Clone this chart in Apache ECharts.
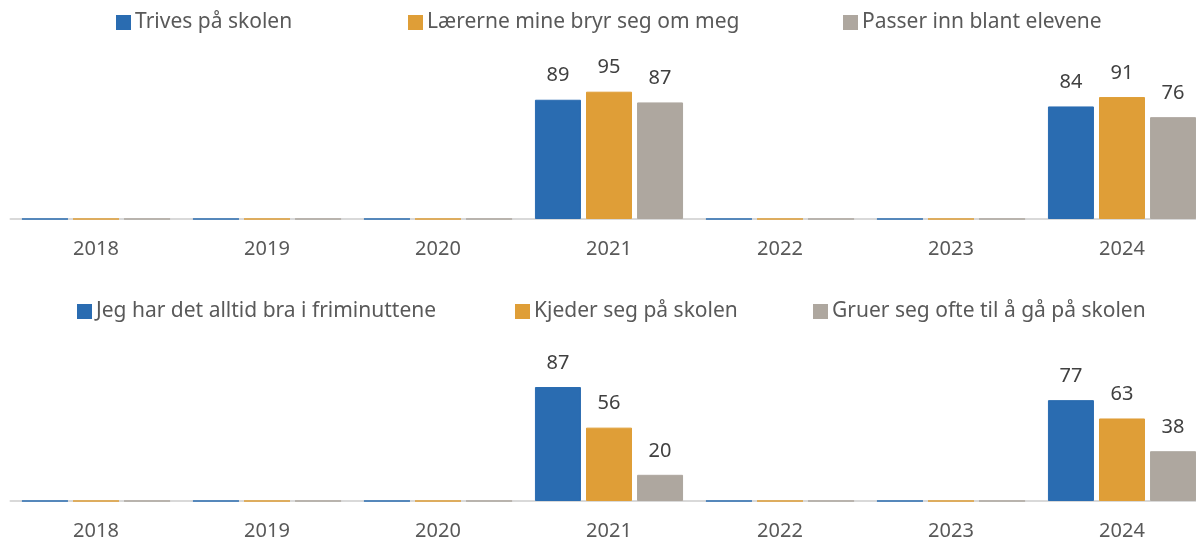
<!DOCTYPE html>
<html>
<head>
<meta charset="utf-8">
<script src="https://cdn.jsdelivr.net/npm/echarts@6/dist/echarts.min.js"></script>
<style>
  html, body { margin: 0; padding: 0; background: #ffffff; overflow: hidden; }
  #chart { width: 1208px; height: 541px; }
</style>
</head>
<body>
<div id="chart"></div>
<script>
// Survey years shown on both panels
const years = ['2018', '2019', '2020', '2021', '2022', '2023', '2024'];

// Upper panel: well-being at school (percent)
const topNames = ['Trives på skolen', 'Lærerne mine bryr seg om meg', 'Passer inn blant elevene'];
const trives = [0, 0, 0, 89, 0, 0, 84];
const laerere = [0, 0, 0, 95, 0, 0, 91];
const passerInn = [0, 0, 0, 87, 0, 0, 76];

// Lower panel: breaks, boredom and dread (percent)
const bottomNames = ['Jeg har det alltid bra i friminuttene', 'Kjeder seg på skolen', 'Gruer seg ofte til å gå på skolen'];
const friminutt = [0, 0, 0, 87, 0, 0, 77];
const kjeder = [0, 0, 0, 56, 0, 0, 63];
const gruer = [0, 0, 0, 20, 0, 0, 38];

const colors = ['#2a6cb1', '#df9e37', '#aea79f'];
const FONT = '"Noto Sans", Roboto, sans-serif';
const textColor = '#595959';

function barSeries(name, values, color, axisIndex) {
  return {
    type: 'bar',
    name: name,
    xAxisIndex: axisIndex,
    yAxisIndex: axisIndex,
    barWidth: 46,
    barGap: '11%',
    data: values,
    itemStyle: { color: color, borderColor: color, borderWidth: 1 },
    label: {
      show: true,
      position: 'top',
      distance: 14,
      fontFamily: FONT,
      fontSize: 20,
      color: '#404040',
      formatter: p => (p.value ? String(p.value) : '')
    },
    emphasis: { disabled: true }
  };
}

function legendAt(name, left, top) {
  return {
    data: [name],
    left: left,
    top: top,
    padding: 0,
    itemWidth: 13,
    itemHeight: 13,
    icon: 'rect',
    selectedMode: false,
    textStyle: { fontFamily: FONT, fontSize: 21, color: textColor }
  };
}

const catAxis = gridIndex => ({
  type: 'category',
  gridIndex: gridIndex,
  data: years,
  axisLine: { show: true, lineStyle: { color: '#d9d9d9', width: 2 } },
  axisTick: { show: false },
  axisLabel: { fontFamily: FONT, fontSize: 20, color: textColor, margin: 20 }
});

const valAxis = gridIndex => ({
  type: 'value',
  gridIndex: gridIndex,
  min: 0,
  max: 100,
  show: false
});

const chart = echarts.init(document.getElementById('chart'), null, { renderer: 'canvas' });
chart.setOption({
  animation: false,
  color: colors,
  legend: [
    legendAt(topNames[0], 116, 12),
    legendAt(topNames[1], 408, 12),
    legendAt(topNames[2], 843, 12),
    legendAt(bottomNames[0], 77, 301),
    legendAt(bottomNames[1], 515, 301),
    legendAt(bottomNames[2], 813, 301)
  ],
  grid: [
    { left: 10.5, width: 1197, top: 85, height: 134 },
    { left: 10.5, width: 1197, top: 370, height: 134 }
  ],
  xAxis: [catAxis(0), catAxis(1)],
  yAxis: [valAxis(0), valAxis(1)],
  series: [
    barSeries(topNames[0], trives, colors[0], 0),
    barSeries(topNames[1], laerere, colors[1], 0),
    barSeries(topNames[2], passerInn, colors[2], 0),
    barSeries(bottomNames[0], friminutt, colors[0], 1),
    barSeries(bottomNames[1], kjeder, colors[1], 1),
    barSeries(bottomNames[2], gruer, colors[2], 1)
  ]
});
</script>
</body>
</html>
